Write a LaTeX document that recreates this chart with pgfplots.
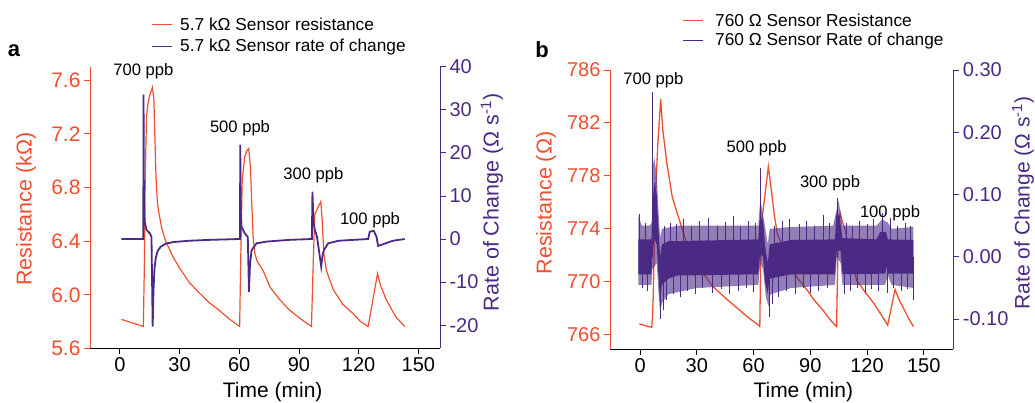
\documentclass[border=0pt]{standalone}
\usepackage{pgfplots}
\pgfplotsset{compat=1.18}
\usepackage{fontspec}
\setmainfont{Liberation Sans}
\definecolor{rred}{RGB}{240,78,48}
\definecolor{ppur}{RGB}{74,42,132}
\newcommand{\fs}[1]{\fontsize{#1}{#1}\selectfont}
\pgfplotsset{
  common/.style={scale only axis, anchor=south west, clip=false,
    tick align=outside, major tick length=6pt, minor tick num=0},
  leftax/.style={common, axis x line*=bottom, axis y line*=left,
    x axis line style={black,line width=0.8pt,-}, y axis line style={rred,line width=0.8pt,-},
    x tick style={black,line width=0.8pt}, y tick style={rred,line width=0.8pt},
    xtick={0,30,60,90,120,150}, xticklabels={0,30,60,90,120,150},
    xticklabel style={font=\fs{20}, black},
    yticklabel style={font=\fs{21}, text=rred}},
  rightax/.style={common, axis x line=none, axis y line*=right,
    y axis line style={ppur,line width=0.8pt,-}, y tick style={ppur,line width=0.8pt},
    yticklabel style={font=\fs{20}, text=ppur}},
}
\begin{document}
\begin{tikzpicture}[x=1pt,y=1pt]
\path[use as bounding box] (0,0) rectangle (1035,403);
% ---------------- panel a ----------------
\begin{axis}[leftax, at={(90pt,54.5pt)}, width=350pt, height=281.9pt,
  xmin=-15, xmax=160.9, ymin=5.6, ymax=7.7,
  ytick={5.6,6.0,6.4,6.8,7.2,7.6}, yticklabels={5.6,6.0,6.4,6.8,7.2,7.6}]
\addplot[rred, line width=1.2pt] coordinates {
(0.8,5.817)(6,5.792)(11.8,5.764)(12.3,6.2)(12.8,6.9)(13.4,7.33)(14.2,7.43)(15.1,7.49)(16.4,7.546)(17.1,7.45)(17.7,7.13)(18.2,6.86)(18.8,6.70)(19.5,6.62)(21,6.50)(23,6.40)(26.8,6.28)(30,6.20)(35,6.09)(40.2,6.01)(45,5.94)(50.3,5.88)(55,5.82)(60.2,5.764)
(60.8,6.3)(61.5,6.86)(62.8,7.03)(63.7,7.07)(64.8,7.09)(65.7,6.93)(66.3,6.68)(67,6.43)(67.8,6.31)(69,6.25)(72,6.18)(75.4,6.06)(80,5.97)(85,5.89)(90,5.83)(96.3,5.764)
(97.3,6.3)(98,6.6)(99.7,6.656)(101,6.694)(101.7,6.557)(102.5,6.31)(103.8,6.18)(107.2,6.04)(112,5.93)(117.2,5.86)(121,5.80)(124.8,5.764)
(129.5,6.158)(131,6.07)(134,5.96)(137,5.88)(139,5.83)(143.2,5.764)};
\end{axis}
\begin{axis}[rightax, at={(90pt,54.5pt)}, width=350pt, height=281.9pt,
  xmin=-15, xmax=160.9, ymin=-25.4, ymax=40,
  ytick={-20,-10,0,10,20,30,40}, yticklabels={-20,-10,0,10,20,30,40}]
\addplot[ppur, line width=1.8pt] coordinates {
(0.8,0)(11.8,0)(11.9,33.5)(12.1,9)(12.5,4)(13.4,2.1)(15.1,1.3)(15.9,0.5)(16.5,-20.3)(16.9,-12)(17.4,-7)(18.0,-4.5)(19,-2.8)(20.5,-1.8)(23,-1.1)(27,-0.7)(35,-0.4)(45,-0.2)(60.4,0)
(60.5,21.9)(60.8,6)(61.1,2.9)(62.8,1.3)(64.3,0.5)(64.9,-12.3)(65.4,-6)(66.2,-2.6)(68.7,-1.0)(73.7,-0.6)(85,-0.2)(96.5,0)
(96.8,11)(97.3,4)(98,2.1)(99.1,0.5)(101.2,-6.4)(101.8,-4)(102.5,-2.6)(104.7,-1.0)(110,-0.4)(124.8,0)
(125.6,1.7)(127.6,1.9)(129,0.5)(129.8,-1.6)(132.3,-1.2)(137.3,-0.4)(143.2,0)};
\end{axis}
% ---------------- panel b ----------------
\begin{axis}[leftax, at={(610pt,54pt)}, width=343.3pt, height=279pt,
  xmin=-15.9, xmax=165.6, ymin=764.9, ymax=786,
  ytick={766,770,774,778,782,786}, yticklabels={766,770,774,778,782,786},
  yticklabel style={font=\fs{20}}]
\addplot[rred, line width=1.3pt] coordinates {
(-0.4,766.8)(2,766.7)(4,766.6)(6.2,766.55)(6.6,767.5)(7.0,769.1)(7.9,775.6)(9.3,780.2)(10.9,783.8)(12,781.5)(14.1,779.0)(17,776.4)(20,775.0)(22,774.1)(24.7,772.9)(29,771.6)(33.5,770.6)(38,769.7)(44,768.9)(48,768.4)(52.9,767.8)(57,767.3)(61.7,766.8)(63.3,766.6)
(63.6,770)(63.9,774.1)(65.9,776.4)(67.8,778.7)(69.6,776.7)(71,775.0)(72.6,773.6)(75.7,772.5)(79.3,771.1)(83,770.3)(88.1,769.4)(92,768.6)(96.9,767.8)(100,767.2)(103.1,766.7)(103.9,766.6)
(104.3,770)(104.8,774)(105.8,775.2)(107,774.5)(108.4,773.9)(111,772.0)(114.5,770.1)(119,769.2)(123.3,768.4)(127,767.6)(130.9,766.7)
(132.8,768.0)(134.8,769.4)(137,768.6)(139.2,768.0)(142,767.2)(144.5,766.6)};
\end{axis}
\begin{axis}[rightax, at={(610pt,54pt)}, width=343.3pt, height=279pt,
  xmin=-15.9, xmax=165.6, ymin=-0.148, ymax=0.30,
  ytick={-0.1,0,0.1,0.2,0.3}, yticklabels={-0.10,0.00,0.10,0.20,0.30}]
% sparse outliers of the noisy rate-of-change trace
\addplot[ycomb, ppur, line width=0.4pt, mark=none] coordinates {
(-0.5,0.068)(2.5,0.055)(13,0.05)(16,0.055)(19,0.052)(23,0.06)(27,0.05)(31,0.058)(36,0.062)(41,0.05)(45,0.056)(49,0.065)(53,0.05)(57,0.058)(61,0.054)(71,0.05)(75,0.058)(79,0.06)(84,0.052)(88,0.057)(92,0.05)(96.9,0.067)(100,0.055)(109,0.055)(112,0.05)(116,0.058)(120,0.052)(123,0.06)(128,0.07)(132,0.062)(136,0.05)(140,0.055)(143,0.05)
(1,-0.05)(4,-0.055)(12,-0.085)(14,-0.07)(17.5,-0.06)(21,-0.065)(25,-0.055)(29,-0.06)(33,-0.05)(38,-0.058)(43,-0.052)(47,-0.06)(52,-0.055)(56,-0.05)(60,-0.057)(70,-0.075)(73,-0.065)(77,-0.055)(82,-0.06)(86,-0.05)(90,-0.058)(94,-0.055)(99,-0.05)(108,-0.06)(111,-0.055)(115,-0.05)(119,-0.058)(122,-0.052)(126,-0.055)(130.5,-0.058)(134,-0.05)(138,-0.055)(141,-0.052)(144.3,-0.07)};
% outer (sparse) noise envelope: upper edge then lower edge reversed
\addplot[fill=ppur, fill opacity=0.6, draw=none] coordinates {
(-0.9,0.065)(1,0.05)(5,0.05)(6.2,0.055)(6.5,0.14)(7.5,0.16)(8.8,0.13)(9.8,0.07)(10.6,0.03)(11.5,0.045)(20,0.05)(40,0.05)(62.5,0.05)(63.2,0.08)(64,0.085)(66,0.05)(67.5,0.02)(68.5,0.045)(80,0.048)(102,0.05)(103.5,0.07)(105,0.09)(107,0.05)(125,0.05)(128,0.06)(131,0.055)(133,0.045)(144.5,0.048)
(144.5,-0.05)(133,-0.045)(131,-0.03)(129.5,-0.045)(107,-0.045)(106,-0.01)(104,0.0)(103,-0.045)(80,-0.05)(69,-0.06)(68,-0.08)(66.5,-0.065)(65,-0.02)(63.5,-0.01)(62.5,-0.045)(30,-0.05)(15,-0.06)(11.5,-0.075)(10.6,-0.09)(9.8,-0.06)(8.8,-0.01)(6.5,-0.02)(6.0,-0.045)(-0.9,-0.045)};
% dense noise envelope
\addplot[fill=ppur, draw=none] coordinates {
(-0.9,0.028)(6.0,0.028)(6.5,0.08)(7.5,0.12)(8.8,0.10)(9.8,0.04)(10.6,0.0)(11.5,0.02)(15,0.025)(62.5,0.028)(63.2,0.06)(65,0.06)(66,0.02)(67.5,-0.01)(68.5,0.02)(80,0.027)(103,0.028)(103.8,0.07)(105.5,0.065)(107,0.03)(125,0.028)(127,0.04)(130,0.04)(131,0.028)(144.5,0.027)
(144.5,-0.027)(131,-0.027)(130.5,-0.015)(129.5,-0.027)(107,-0.028)(106,0.01)(104,0.01)(103,-0.028)(80,-0.028)(68.5,-0.035)(67.5,-0.06)(66,-0.04)(65,0.0)(63.5,0.005)(62.5,-0.028)(20,-0.03)(15,-0.035)(11.5,-0.045)(10.6,-0.075)(9.8,-0.035)(8.8,0.02)(7.5,0.03)(6.5,0.0)(6.0,-0.028)(-0.9,-0.028)};
\addplot[ppur, line width=1pt] coordinates {(6.3,0.0)(6.3,0.265)};
\addplot[ppur, line width=0.8pt] coordinates {(10.7,0.0)(10.7,-0.10)};
\addplot[ppur, line width=1pt] coordinates {(63.6,0.0)(63.6,0.142)};
\addplot[ppur, line width=0.8pt] coordinates {(68.3,0.0)(68.3,-0.096)};
\addplot[ppur, line width=1pt] coordinates {(104.4,0.0)(104.4,0.094)};
\end{axis}
% ---------------- labels ----------------
\node[rotate=90, text=rred, font=\fs{21.5}] at (26,193.8) {Resistance (kΩ)};
\node[rotate=90, text=ppur, font=\fs{21.5}] at (492,200.5) {Rate of Change (Ω s\textsuperscript{-1})};
\node[font=\fs{21}] at (272.7,11.3) {Time (min)};
\node[rotate=90, text=rred, font=\fs{21.5}] at (546,200) {Resistance (Ω)};
\node[rotate=90, text=ppur, font=\fs{21}] at (1023,200) {Rate of Change (Ω s\textsuperscript{-1})};
\node[font=\fs{21}] at (803.3,11.3) {Time (min)};
\node[font=\bfseries\fs{22}] at (14,352) {a};
\node[font=\bfseries\fs{22}] at (542,353) {b};
% annotations
\node[font=\fs{16.6}] at (143.3,331.3) {700 ppb};
\node[font=\fs{16.6}] at (240,274.7) {500 ppb};
\node[font=\fs{16.6}] at (313.3,228) {300 ppb};
\node[font=\fs{16.6}] at (370,183) {100 ppb};
\node[font=\fs{16.6}] at (653.3,323) {700 ppb};
\node[font=\fs{16.6}] at (756.7,254.7) {500 ppb};
\node[font=\fs{16.6}] at (830,219.7) {300 ppb};
\node[font=\fs{16.6}] at (890,189.7) {100 ppb};
% legends
\draw[rred, line width=1pt] (152,378.7) -- (172,378.7);
\node[anchor=west, inner sep=0, font=\fs{17.3}] at (180,378.7) {5.7 kΩ Sensor resistance};
\draw[ppur, line width=1pt] (152,356.3) -- (172,356.3);
\node[anchor=west, inner sep=0, font=\fs{17.3}] at (180,356.3) {5.7 kΩ Sensor rate of change};
\draw[rred, line width=1pt] (683,382.3) -- (703,382.3);
\node[anchor=west, inner sep=0, font=\fs{17.3}] at (715,382.3) {760 Ω Sensor Resistance};
\draw[ppur, line width=1pt] (683,362.3) -- (703,362.3);
\node[anchor=west, inner sep=0, font=\fs{17.3}] at (715,362.3) {760 Ω Sensor Rate of change};
\end{tikzpicture}
\end{document}
